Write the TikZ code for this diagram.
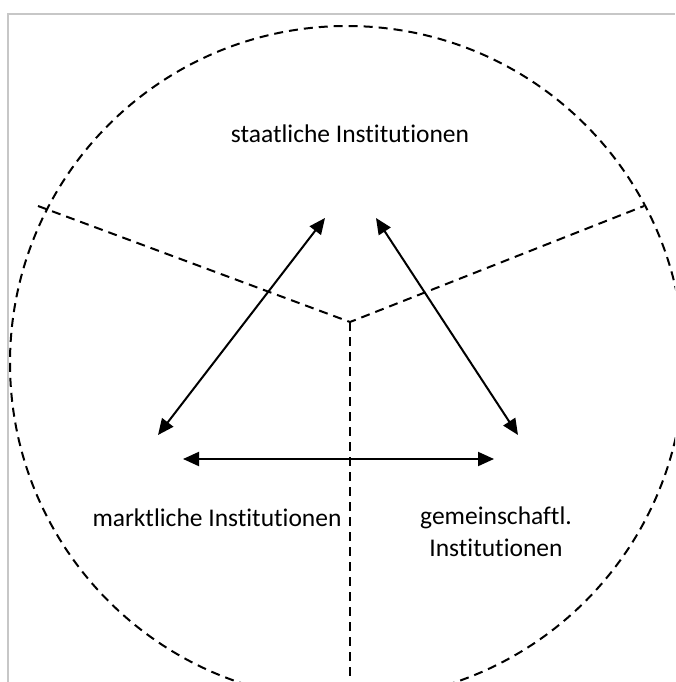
\documentclass[tikz,border=0pt]{standalone}
\usepackage{fontspec}
\setmainfont{Carlito}[Ligatures=NoCommon]
\usetikzlibrary{arrows.meta}
\begin{document}
\begin{tikzpicture}[x=1pt,y=-1pt,
  frame/.style={draw=black!22,line width=2pt},
  sector/.style={draw=black,line width=2pt,dash pattern=on 9pt off 6pt},
  link/.style={draw=black,line width=2pt,{Triangle[length=16pt,width=14pt]}-{Triangle[length=16pt,width=14pt]}},
  label/.style={font=\fontsize{25.5}{32}\selectfont,align=center,inner sep=0pt}]
\useasboundingbox (0,0) rectangle (675,682);
% page frame
\draw[frame] (8,682) -- (8,14) -- (675,14);
% outer circle and sector borders
\begin{scope}
\clip (0,0) rectangle (675,682);
\draw[sector] (347,363) circle (337);
\coordinate (hub) at (350,322);
\coordinate (wl) at (38,206);
\coordinate (wr) at (644,206);
\coordinate (ws) at (350,690);
\draw[sector] (wl) -- (hub) -- (wr);
\draw[sector] (hub) -- (ws);
\end{scope}
% labels
\node[label] (st) at (350,134) {staatliche Institutionen};
\node[label] (mk) at (217,518) {marktliche Institutionen};
\node[label] (gm) at (496,532) {gemeinschaftl.\\Institutionen};
% arrow ends
\coordinate (stL) at (325,218);
\coordinate (stR) at (376,218);
\coordinate (mkT) at (158,435);
\coordinate (mkR) at (183,459);
\coordinate (gmT) at (518,435);
\coordinate (gmL) at (494,459);
\draw[link] (mkT) -- (stL);
\draw[link] (stR) -- (gmT);
\draw[link] (mkR) -- (gmL);
\end{tikzpicture}
\end{document}
